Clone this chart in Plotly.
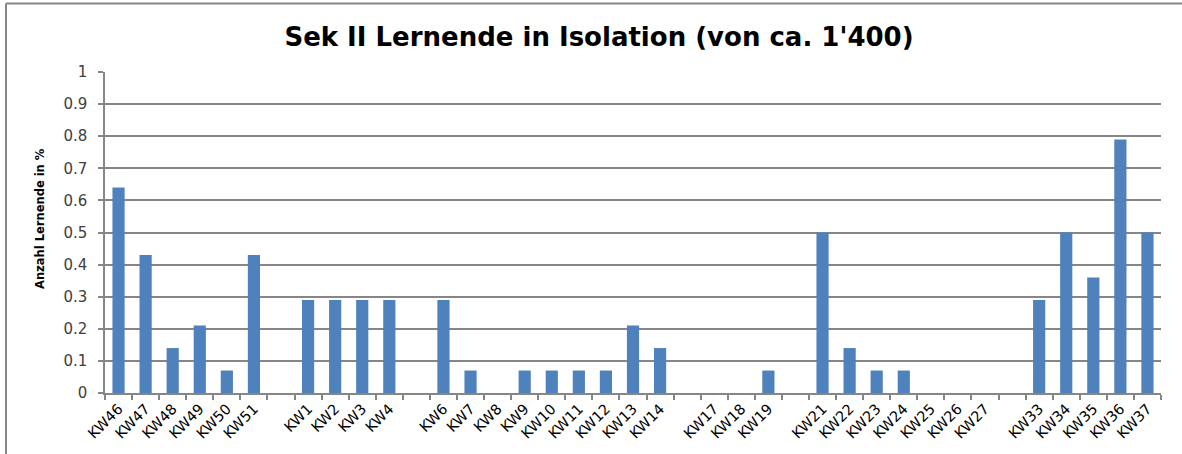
import plotly.graph_objects as go

categories = ["KW46", "KW47", "KW48", "KW49", "KW50", "KW51", "",
              "KW1", "KW2", "KW3", "KW4", "",
              "KW6", "KW7", "KW8", "KW9", "KW10", "KW11", "KW12", "KW13", "KW14", "",
              "KW17", "KW18", "KW19", "",
              "KW21", "KW22", "KW23", "KW24", "KW25", "KW26", "KW27", "",
              "KW33", "KW34", "KW35", "KW36", "KW37"]
values = [0.64, 0.43, 0.14, 0.21, 0.07, 0.43, None,
          0.29, 0.29, 0.29, 0.29, None,
          0.29, 0.07, 0, 0.07, 0.07, 0.07, 0.07, 0.21, 0.14, None,
          0, 0, 0.07, None,
          0.5, 0.14, 0.07, 0.07, 0, 0, 0, None,
          0.29, 0.5, 0.36, 0.79, 0.5]
y_ticks = [0, 0.1, 0.2, 0.3, 0.4, 0.5, 0.6, 0.7, 0.8, 0.9, 1]
y_ticktext = ["0", "0.1", "0.2", "0.3", "0.4", "0.5", "0.6", "0.7", "0.8", "0.9", "1"]

positions = list(range(len(categories)))

W, H = 1182, 454
L, R, T, B = 105, 21, 72, 61
pw, ph = W - L - R, H - T - B

def px_x(p):
    return (p - L) / pw

def px_y(p):
    return (H - B - p) / ph

FONT = "DejaVu Sans"

fig = go.Figure()
fig.add_trace(go.Bar(x=positions, y=values, marker=dict(color="#4F81BD", line=dict(width=0)),
                     hoverinfo="skip"))

fig.update_layout(
    width=W, height=H,
    margin=dict(l=L, r=R, t=T, b=B),
    paper_bgcolor="white", plot_bgcolor="white",
    bargap=0.55,
    showlegend=False,
    font=dict(family=FONT, color="#000000"),
    title=dict(text="<b>Sek II Lernende in Isolation (von ca. 1'400)</b>",
               x=599 / W, xref="container", xanchor="center",
               y=1 - 37 / H, yref="container", yanchor="middle",
               font=dict(family=FONT, size=26, color="#000000")),
    xaxis=dict(range=[-0.5, len(categories) - 0.5], tickmode="array",
               tickvals=positions, ticktext=categories, tickangle=-45,
               ticks="", showgrid=False, zeroline=False,
               showline=True, linecolor="#868686", linewidth=1.5,
               tickfont=dict(size=14.5, color="#000000"),
               minor=dict(ticks="outside", tick0=-0.5, dtick=1, ticklen=5,
                          tickcolor="#868686", tickwidth=1.5, showgrid=False)),
    yaxis=dict(range=[0, 1], tickmode="array", tickvals=y_ticks, ticktext=y_ticktext,
               ticks="outside", ticklen=5, tickcolor="#868686", tickwidth=1.5,
               ticklabelstandoff=8,
               showgrid=True, gridcolor="#868686", gridwidth=1.5,
               zeroline=False, showline=True, linecolor="#868686", linewidth=1.5,
               tickfont=dict(size=15, color="#404040")),
    annotations=[
        dict(text="<b>Anzahl Lernende in %</b>", textangle=-90,
             xref="paper", yref="paper", x=px_x(40), y=px_y(219),
             xanchor="center", yanchor="middle", showarrow=False,
             font=dict(family=FONT, size=11.5, color="#000000")),
    ],
    shapes=[
        dict(type="line", xref="paper", yref="paper",
             x0=px_x(6), x1=px_x(W + 5), y0=px_y(3.5), y1=px_y(3.5),
             line=dict(color="#868686", width=2)),
        dict(type="line", xref="paper", yref="paper",
             x0=px_x(6), x1=px_x(6), y0=px_y(3.5), y1=px_y(H + 5),
             line=dict(color="#868686", width=2)),
    ],
)

fig.write_html("out.html", config={"displayModeBar": False},
               post_script="document.body.style.margin='0';")
